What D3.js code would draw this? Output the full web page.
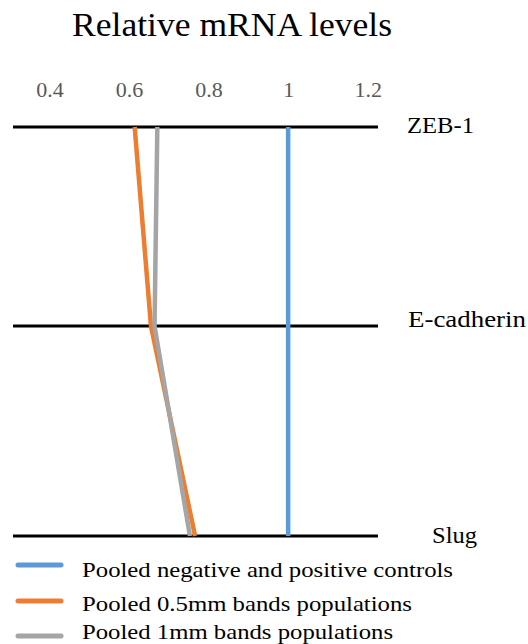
<!DOCTYPE html>
<html><head><meta charset="utf-8">
<script src="https://cdn.jsdelivr.net/npm/d3@7"></script>
<style>
body{margin:0;background:#fff;}
</style>
</head><body>
<script>
const categories = ["ZEB-1", "E-cadherin", "Slug"];
const seriesNames = ["Pooled negative and positive controls", "Pooled 0.5mm bands populations", "Pooled 1mm bands populations"];
const controls = [1, 1, 1];
const bands05 = [0.614, 0.655, 0.766];
const bands1 = [0.671, 0.664, 0.753];
const tickValues = [0.4, 0.6, 0.8, 1, 1.2];
const tickLabels = ["0.4", "0.6", "0.8", "1", "1.2"];
const chartTitle = "Relative mRNA levels";

const colors = ["#5B9BD5", "#ED7D31", "#A5A5A5"];
const series = [controls, bands05, bands1];
const FONT = "Times New Roman";

const W = 528, H = 644;
const svg = d3.select("body").append("svg").attr("width", W).attr("height", H)
  .attr("font-family", FONT);

const xs = d3.scaleLinear().domain([0.308, 1.226]).range([13, 378]);
const ys = d3.scaleOrdinal().domain(categories).range([127, 326, 536]);

// title
svg.append("text").attr("x", 72).attr("y", 36)
  .attr("font-family", FONT).attr("font-size", 33).attr("fill", "#000")
  .attr("textLength", 320).attr("lengthAdjust", "spacingAndGlyphs")
  .text(chartTitle);

// axis tick labels
const axis = d3.axisTop(xs).tickValues(tickValues).tickFormat((d, i) => tickLabels[i]).tickSize(0).tickPadding(0);
const gAx = svg.append("g").attr("transform", "translate(0,97)").call(axis);
gAx.attr("font-family", FONT);
gAx.select(".domain").remove();
gAx.selectAll("text").attr("font-size", 22).attr("fill", "#595959").attr("dy", 0).attr("font-family", FONT);

// category lines
svg.append("g").selectAll("line").data(categories).join("line")
  .attr("x1", xs.range()[0]).attr("x2", xs.range()[1])
  .attr("y1", d => ys(d)).attr("y2", d => ys(d))
  .attr("stroke", "#000").attr("stroke-width", 3);

// category labels
const labelPos = {"ZEB-1": [407, 6, 67], "E-cadherin": [408, 1, 118], "Slug": [432, 7, 45]};
svg.append("g").selectAll("text").data(categories).join("text")
  .attr("x", d => labelPos[d][0]).attr("y", d => ys(d) + labelPos[d][1])
  .attr("font-family", FONT).attr("font-size", 24).attr("fill", "#000")
  .attr("textLength", d => labelPos[d][2]).attr("lengthAdjust", "spacingAndGlyphs")
  .text(d => d);

// series lines
const lineGen = d3.line().x(d => xs(d.v)).y(d => ys(d.c));
svg.append("g").selectAll("path").data(series).join("path")
  .attr("d", s => lineGen(s.map((v, i) => ({v, c: categories[i]}))))
  .attr("fill", "none").attr("stroke", (s, i) => colors[i]).attr("stroke-width", 4.5)
  .attr("stroke-linejoin", "round");

// legend
const lg = svg.append("g");
const legY = [565, 601, 636];
const legBase = [577, 611, 639];
const legLen = [371, 330, 311];
seriesNames.forEach((n, i) => {
  lg.append("line").attr("x1", 18).attr("x2", 61).attr("y1", legY[i]).attr("y2", legY[i])
    .attr("stroke", colors[i]).attr("stroke-width", 5).attr("stroke-linecap", "round");
  lg.append("text").attr("x", 82).attr("y", legBase[i]).attr("font-family", FONT)
    .attr("font-size", 22).attr("fill", "#000")
    .attr("textLength", legLen[i]).attr("lengthAdjust", "spacingAndGlyphs")
    .text(n);
});
</script>
</body></html>
